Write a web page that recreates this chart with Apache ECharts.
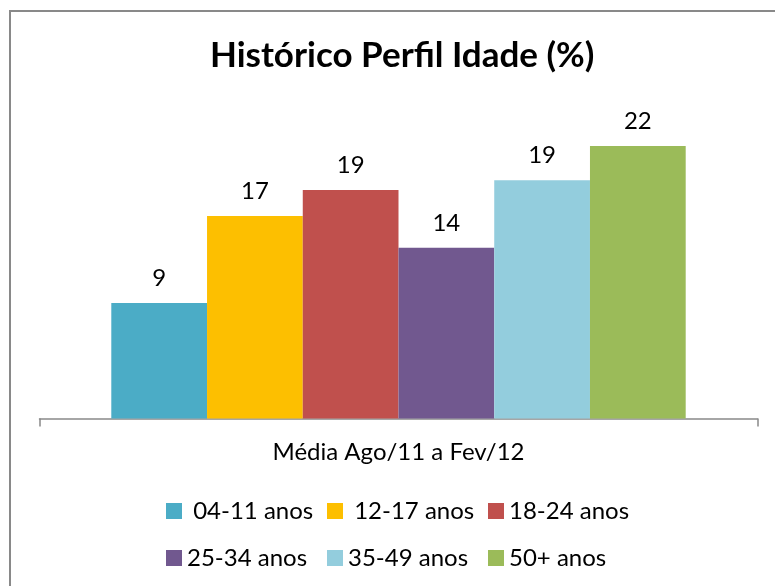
<!DOCTYPE html>
<html>
<head>
<meta charset="utf-8">
<script src="https://cdn.jsdelivr.net/npm/echarts@6/dist/echarts.min.js"></script>
<style>html,body{margin:0;padding:0;background:#fff}#c{width:775px;height:586px}</style>
</head>
<body>
<div id="c"></div>
<script>
var categories = ['Média Ago/11 a Fev/12'];
var seriesNames = [' 04-11 anos', ' 12-17 anos', '18-24 anos', '25-34 anos', '35-49 anos', '50+ anos'];
var seriesValues = [9.4, 16.5, 18.6, 13.9, 19.4, 22.2];
var seriesColors = ['#4BACC6', '#FDBF00', '#C0504D', '#71588F', '#93CDDD', '#9BBB59'];

var FONT = 'Lato';
var chart = echarts.init(document.getElementById('c'));
var series = seriesNames.map(function (n, i) {
  return {
    name: n,
    type: 'bar',
    data: [seriesValues[i]],
    itemStyle: { color: seriesColors[i] },
    barGap: '0%',
    barCategoryGap: '20%',
    label: {
      show: true,
      position: 'top',
      distance: 13,
      color: '#000',
      fontFamily: FONT,
      fontSize: 24,
      formatter: function (p) { return String(Math.round(p.value)); }
    }
  };
});
var legendCommon = {
  orient: 'horizontal',
  left: 166,
  padding: 0,
  itemWidth: 16,
  itemHeight: 16,
  itemGap: 0,
  icon: 'rect',
  textStyle: { fontFamily: FONT, fontSize: 24, color: '#000', width: 140, lineHeight: 24 }
};
chart.setOption({
  animation: false,
  title: {
    text: 'Histórico Perfil Idade (%)',
    left: 205,
    top: 33,
    textStyle: { fontFamily: FONT, fontWeight: 'bold', fontSize: 35, color: '#000' }
  },
  graphic: [{
    type: 'rect',
    shape: { x: 10, y: 11, width: 800, height: 600 },
    style: { fill: 'none', stroke: '#898989', lineWidth: 2 },
    silent: true
  }],
  legend: [
    Object.assign({}, legendCommon, { top: 499, data: seriesNames.slice(0, 3) }),
    Object.assign({}, legendCommon, { top: 546, data: seriesNames.slice(3, 6) })
  ],
  grid: { left: 39.5, right: 17.5, top: 111.5, bottom: 167.5, containLabel: false },
  xAxis: {
    type: 'category',
    data: categories,
    axisLine: { lineStyle: { color: '#898989', width: 1.5 } },
    axisTick: { show: true, length: 8, lineStyle: { color: '#898989', width: 1.5 } },
    axisLabel: { fontFamily: FONT, fontSize: 24, color: '#000', margin: 22 }
  },
  yAxis: {
    type: 'value',
    min: 0,
    max: 25,
    show: false,
    splitLine: { show: false }
  },
  series: series
});
</script>
</body>
</html>
